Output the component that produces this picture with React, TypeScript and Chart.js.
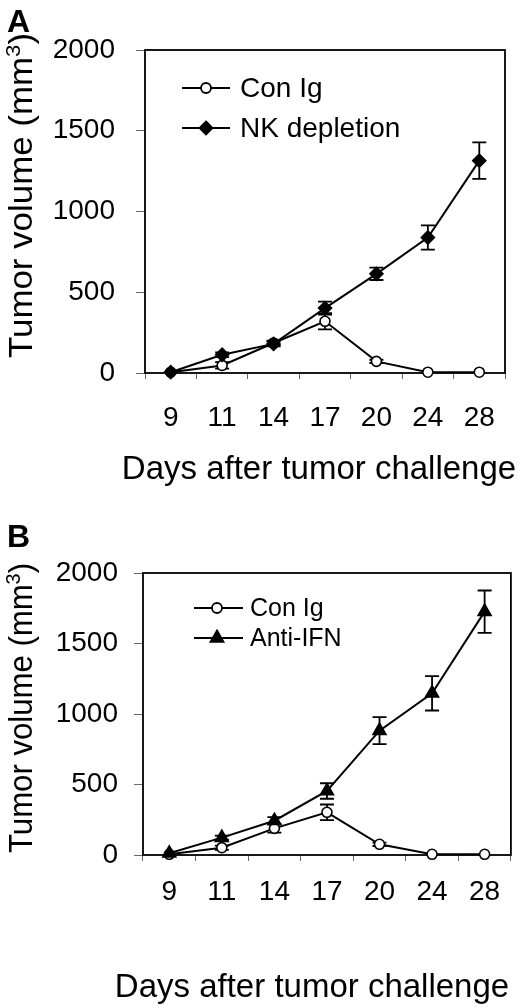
import React, { useEffect, useRef } from "react";
import { Chart, registerables } from "chart.js";

Chart.register(...registerables);

// ---------- data ----------
const days = ["9", "11", "14", "17", "20", "24", "28"];
const yMin = 0;
const yMax = 2000;
const yStep = 500;

const conIgA = [5, 47, 186, 320, 72, 5, 5];
const conIgAErr = [0, 20, 15, 50, 10, 0, 0];
const nkDepletion = [5, 113, 180, 402, 614, 839, 1315];
const nkDepletionErr = [0, 15, 15, 40, 38, 75, 113];

const conIgB = [5, 52, 189, 303, 76, 5, 5];
const conIgBErr = [0, 15, 30, 55, 12, 0, 0];
const antiIfn = [12, 123, 243, 454, 882, 1147, 1726];
const antiIfnErr = [0, 15, 25, 55, 96, 122, 150];

const xTitleText = "Days after tumor challenge";
const yTitleMain = "Tumor volume (mm";
const yTitleSup = "3";
const yTitleEnd = ")";

// ---------- styling ----------
const FONT = '"Liberation Sans", Arial, Helvetica, sans-serif';
const W = 520;
const CAP = 7;

type Marker = "circle" | "diamond" | "triangle";
type Series = { label: string; data: number[]; err: number[]; marker: Marker };
type Panel = {
  letter: string;
  height: number;
  area: { left: number; top: number; right: number; bottom: number };
  series: Series[];
  tickFont: number;
  xTickPad: number;
  yTickPad: number;
  legend: { x0: number; x1: number; mx: number; tx: number; rows: number[]; font: number };
  yTitle: { x: number; y0: number; y1: number };
  xTitle: { cx: number; y: number };
  letterPos: { x: number; y: number };
};

const markerRadius: Record<Marker, number> = { circle: 5, diamond: 6.5, triangle: 7.5 };
const markerStyle: Record<Marker, string> = { circle: "circle", diamond: "rectRot", triangle: "triangle" };

const panelA: Panel = {
  letter: "A",
  height: 490,
  area: { left: 145, top: 50, right: 505, bottom: 373 },
  series: [
    { label: "Con Ig", data: conIgA, err: conIgAErr, marker: "circle" },
    { label: "NK depletion", data: nkDepletion, err: nkDepletionErr, marker: "diamond" },
  ],
  tickFont: 28,
  xTickPad: 22,
  yTickPad: 21,
  legend: { x0: 182, x1: 230, mx: 206, tx: 240, rows: [88, 128], font: 28 },
  yTitle: { x: 32, y0: 358, y1: 33 },
  xTitle: { cx: 319, y: 479 },
  letterPos: { x: 7, y: 32 },
};

const panelB: Panel = {
  letter: "B",
  height: 518,
  area: { left: 143, top: 83, right: 512, bottom: 365 },
  series: [
    { label: "Con Ig", data: conIgB, err: conIgBErr, marker: "circle" },
    { label: "Anti-IFN", data: antiIfn, err: antiIfnErr, marker: "triangle" },
  ],
  tickFont: 28,
  xTickPad: 14,
  yTickPad: 16,
  legend: { x0: 194, x1: 243, mx: 217, tx: 250, rows: [118, 148], font: 25 },
  yTitle: { x: 32, y0: 363, y1: 73 },
  xTitle: { cx: 312, y: 507 },
  letterPos: { x: 7, y: 57 },
};

function drawMarker(ctx: CanvasRenderingContext2D, m: Marker, x: number, y: number) {
  const r = markerRadius[m];
  ctx.beginPath();
  if (m === "circle") {
    ctx.arc(x, y, r, 0, Math.PI * 2);
    ctx.fillStyle = "#fff";
    ctx.fill();
    ctx.stroke();
    return;
  }
  if (m === "diamond") {
    ctx.moveTo(x, y - r);
    ctx.lineTo(x + r, y);
    ctx.lineTo(x, y + r);
    ctx.lineTo(x - r, y);
  } else {
    const s = Math.sin((2 * Math.PI) / 3) * r;
    ctx.moveTo(x, y - r);
    ctx.lineTo(x + s, y + r / 2);
    ctx.lineTo(x - s, y + r / 2);
  }
  ctx.closePath();
  ctx.fillStyle = "#000";
  ctx.fill();
  ctx.stroke();
}

function PanelChart({ panel }: { panel: Panel }) {
  const ref = useRef<HTMLCanvasElement>(null);

  useEffect(() => {
    const canvas = ref.current;
    if (!canvas) return;
    const { area } = panel;

    const framePlugin = {
      id: "frameAndErrors",
      beforeDatasetsDraw(chart: any) {
        const ctx = chart.ctx as CanvasRenderingContext2D;
        const ca = chart.chartArea;
        ctx.save();
        ctx.strokeStyle = "#000";
        ctx.lineWidth = 1.8;
        ctx.strokeRect(ca.left, ca.top, ca.right - ca.left, ca.bottom - ca.top);
        // error bars
        const ys = chart.scales.y;
        ctx.lineWidth = 1.8;
        chart.data.datasets.forEach((ds: any, i: number) => {
          const meta = chart.getDatasetMeta(i);
          const err = panel.series[i].err;
          meta.data.forEach((pt: any, j: number) => {
            const e = err[j];
            if (!e) return;
            const v = ds.data[j] as number;
            const yt = ys.getPixelForValue(v + e);
            const yb = ys.getPixelForValue(v - e);
            const x = pt.x;
            ctx.beginPath();
            ctx.moveTo(x, yt);
            ctx.lineTo(x, yb);
            ctx.moveTo(x - CAP, yt);
            ctx.lineTo(x + CAP, yt);
            ctx.moveTo(x - CAP, yb);
            ctx.lineTo(x + CAP, yb);
            ctx.stroke();
          });
        });
        ctx.restore();
      },
      afterDraw(chart: any) {
        const ctx = chart.ctx as CanvasRenderingContext2D;
        ctx.save();
        // legend
        const lg = panel.legend;
        panel.series.forEach((s, i) => {
          const y = lg.rows[i];
          ctx.strokeStyle = "#000";
          ctx.lineWidth = 1.8;
          ctx.beginPath();
          ctx.moveTo(lg.x0, y);
          ctx.lineTo(lg.x1, y);
          ctx.stroke();
          drawMarker(ctx, s.marker, lg.mx, y);
          ctx.fillStyle = "#000";
          ctx.font = `${lg.font}px ${FONT}`;
          ctx.textAlign = "left";
          ctx.textBaseline = "middle";
          ctx.fillText(s.label, lg.tx, y + 1);
        });

        // panel letter
        ctx.fillStyle = "#000";
        ctx.font = `bold 32px ${FONT}`;
        ctx.textAlign = "left";
        ctx.textBaseline = "alphabetic";
        ctx.fillText(panel.letter, panel.letterPos.x, panel.letterPos.y);

        // x title
        ctx.font = `33px ${FONT}`;
        ctx.textAlign = "center";
        ctx.fillText(xTitleText, panel.xTitle.cx, panel.xTitle.y);

        // y title (rotated, with superscript)
        const yt = panel.yTitle;
        const mainFont = `33px ${FONT}`;
        const supFont = `21px ${FONT}`;
        ctx.font = mainFont;
        const w1 = ctx.measureText(yTitleMain).width;
        const w3 = ctx.measureText(yTitleEnd).width;
        ctx.font = supFont;
        const w2 = ctx.measureText(yTitleSup).width;
        const total = w1 + w2 + w3;
        const target = yt.y0 - yt.y1;
        ctx.translate(yt.x, yt.y0);
        ctx.rotate(-Math.PI / 2);
        ctx.scale(target / total, 1);
        ctx.textAlign = "left";
        ctx.textBaseline = "alphabetic";
        ctx.font = mainFont;
        ctx.fillText(yTitleMain, 0, 0);
        ctx.font = supFont;
        ctx.fillText(yTitleSup, w1, -12);
        ctx.font = mainFont;
        ctx.fillText(yTitleEnd, w1 + w2, 0);
        ctx.restore();
      },
    };

    const chart = new Chart(canvas, {
      type: "line",
      data: {
        labels: days,
        datasets: panel.series.map((s, i) => ({
          label: s.label,
          data: s.data,
          borderColor: "#000",
          borderWidth: 2,
          pointStyle: markerStyle[s.marker] as any,
          pointRadius: markerRadius[s.marker],
          pointHoverRadius: markerRadius[s.marker],
          pointBackgroundColor: s.marker === "circle" ? "#fff" : "#000",
          pointBorderColor: "#000",
          pointBorderWidth: 1.6,
          tension: 0,
          clip: false as any,
          order: i === 0 ? 1 : 0,
        })),
      },
      plugins: [framePlugin],
      options: {
        responsive: false,
        animation: false,
        devicePixelRatio: 1,
        layout: { padding: { top: area.top, right: W - area.right, left: 0, bottom: 0 } },
        plugins: {
          legend: { display: false },
          tooltip: { enabled: false },
          title: { display: false },
        },
        scales: {
          x: {
            type: "category",
            offset: true,
            grid: {
              offset: true,
              drawOnChartArea: false,
              drawTicks: true,
              tickLength: 6,
              color: "#666",
              lineWidth: 1,
            },
            border: { display: false },
            ticks: {
              color: "#000",
              font: { family: FONT, size: panel.tickFont },
              padding: panel.xTickPad,
              maxRotation: 0,
              autoSkip: false,
            },
            afterFit: (s: any) => {
              s.height = panel.height - area.bottom;
            },
          },
          y: {
            min: yMin,
            max: yMax,
            grid: {
              drawOnChartArea: false,
              drawTicks: true,
              tickLength: 9,
              color: "#666",
              lineWidth: 1,
            },
            border: { display: false },
            ticks: {
              stepSize: yStep,
              color: "#000",
              font: { family: FONT, size: panel.tickFont },
              padding: panel.yTickPad,
              callback: (v: any) => String(v),
            },
            afterFit: (s: any) => {
              s.width = area.left;
            },
          },
        },
      },
    });
    return () => chart.destroy();
  }, [panel]);

  return (
    <canvas
      ref={ref}
      width={W}
      height={panel.height}
      style={{ display: "block", width: W, height: panel.height }}
    />
  );
}

export default function App() {
  return (
    <div style={{ position: "absolute", left: 0, top: 0, width: W, height: 1008, background: "#fff" }}>
      <PanelChart panel={panelA} />
      <PanelChart panel={panelB} />
    </div>
  );
}
